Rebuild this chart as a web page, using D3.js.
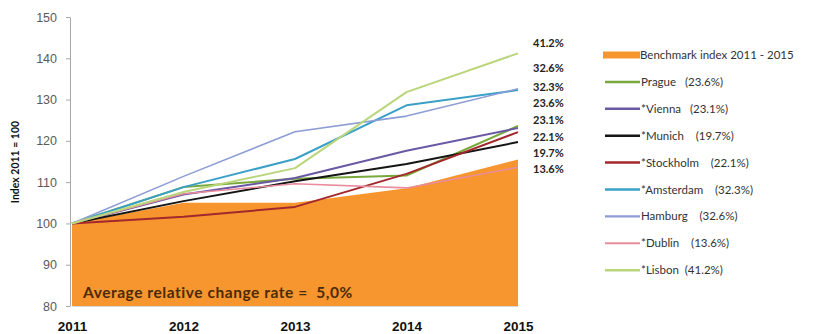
<!DOCTYPE html>
<html>
<head>
<meta charset="utf-8">
<script src="https://cdn.jsdelivr.net/npm/d3@7"></script>
<style>
  html, body { margin: 0; padding: 0; background: #fff; }
  svg { display: block; font-family: Lato, "Open Sans", sans-serif; }
  text { white-space: pre; }
</style>
</head>
<body>
<svg id="chart" width="839" height="334"></svg>
<script>
// Index values, 2011 = 100
const years = [2011, 2012, 2013, 2014, 2015];
const benchmark = [100, 105, 105, 108.5, 115.5];

const cities = ["Prague", "*Vienna", "*Munich", "*Stockholm", "*Amsterdam", "Hamburg", "*Dublin", "*Lisbon"];
const prague    = [100, 108.8, 110.8, 111.6, 123.6];
const vienna    = [100, 107.0, 111.0, 117.6, 123.1];
const munich    = [100, 105.4, 110.2, 114.4, 119.7];
const stockholm = [100, 101.6, 104.0, 112.0, 122.1];
const amsterdam = [100, 108.8, 115.6, 128.6, 132.3];
const hamburg   = [100, 111.4, 122.2, 126.0, 132.6];
const dublin    = [100, 107.2, 109.6, 108.6, 113.6];
const lisbon    = [100, 107.6, 113.4, 131.8, 141.2];
const changeRates = ["23.6%", "23.1%", "19.7%", "22.1%", "32.3%", "32.6%", "13.6%", "41.2%"];
const colors = ["#79A83C", "#6A58A4", "#151515", "#A2282C", "#3AA0C6", "#8C9DD4", "#E98C9C", "#BAD67C"];
const widths = [2, 2, 2, 2, 2, 1.6, 1.6, 2];

// labels stacked at the end of the lines, highest first
const endLabels = ["41.2%", "32.6%", "32.3%", "23.6%", "23.1%", "22.1%", "19.7%", "13.6%"];

const yTicks = [80, 90, 100, 110, 120, 130, 140, 150];
const benchmarkLabel = "Benchmark index 2011 - 2015";
const averageNote = "Average relative change rate =  5,0%";
const yTitle = "Index 2011 = 100";

const seriesValues = [prague, vienna, munich, stockholm, amsterdam, hamburg, dublin, lisbon];

const svg = d3.select("#chart");

const x = d3.scalePoint().domain(years).range([72, 518]);
const y = d3.scaleLinear().domain([80, 150]).range([306, 17]);

// benchmark area
const area = d3.area()
  .x((d, i) => x(years[i]))
  .y0(y(80))
  .y1(d => y(d));
svg.append("path")
  .datum(benchmark)
  .attr("d", area)
  .attr("fill", "#F7962F");

// y axis
const yAxis = svg.append("g")
  .attr("transform", `translate(${x(years[0]) - 2},0)`)
  .call(d3.axisLeft(y).tickValues(yTicks).tickSize(4).tickSizeOuter(0).tickPadding(9));
yAxis.select(".domain").attr("stroke", "#a8a8a8");
yAxis.selectAll(".tick line").attr("stroke", "#a8a8a8");
yAxis.selectAll(".tick text")
  .attr("fill", "#5a5a5a")
  .style("font-size", "12.5px");

// x axis
const xAxis = svg.append("g")
  .attr("transform", `translate(0,${y(80)})`)
  .call(d3.axisBottom(x).tickSize(0).tickPadding(15).tickFormat(d3.format("d")));
xAxis.select(".domain").attr("stroke", "#d8d8d8");
xAxis.selectAll(".tick text")
  .attr("fill", "#111")
  .style("font-size", "13.5px")
  .style("font-weight", "bold");

// y axis title
svg.append("text")
  .attr("transform", `translate(19,${162}) rotate(-90)`)
  .attr("text-anchor", "middle")
  .style("font-size", "10.5px")
  .style("font-weight", "bold")
  .attr("fill", "#111")
  .text(yTitle);

// city lines
const line = d3.line()
  .x((d, i) => x(years[i]))
  .y(d => y(d));
svg.append("g").selectAll("path")
  .data(seriesValues)
  .join("path")
  .attr("d", line)
  .attr("fill", "none")
  .attr("stroke", (d, i) => colors[i])
  .attr("stroke-width", (d, i) => widths[i])
  .attr("stroke-linejoin", "round");

// average note inside the area
svg.append("text")
  .attr("x", 83)
  .attr("y", 298)
  .style("font-size", "15.5px")
  .style("font-weight", "bold")
  .style("letter-spacing", "0.55px")
  .attr("fill", "#4C2A05")
  .text(averageNote);

// end-of-line change labels
svg.append("g").selectAll("text")
  .data(endLabels)
  .join("text")
  .attr("x", 533)
  .attr("y", (d, i) => [43, 68, 87, 103, 120, 137, 153, 169][i] + 4)
  .style("font-size", "11px")
  .style("font-weight", "bold")
  .attr("fill", "#222")
  .text(d => d);

// legend
const legend = svg.append("g");
const rowY = i => 55 + i * 26.9;
legend.append("rect")
  .attr("x", 603).attr("y", rowY(0) - 3.5)
  .attr("width", 37).attr("height", 7)
  .attr("fill", "#F7962F");
legend.append("text")
  .attr("x", 640).attr("y", rowY(0) + 4)
  .style("font-size", "11.5px")
  .attr("fill", "#333")
  .text(benchmarkLabel);

const pads = ["   ", "   ", "    ", "    ", "    ", "    ", "    ", "  "];
cities.forEach((c, i) => {
  const yy = rowY(i + 1);
  legend.append("line")
    .attr("x1", 605).attr("x2", 640)
    .attr("y1", yy).attr("y2", yy)
    .attr("stroke", colors[i])
    .attr("stroke-width", widths[i] + 0.5);
  legend.append("text")
    .attr("x", 641).attr("y", yy + 4)
    .style("font-size", "11.5px")
    .attr("fill", "#333")
    .text(`${c}${pads[i]}(${changeRates[i]})`);
});
</script>
</body>
</html>
